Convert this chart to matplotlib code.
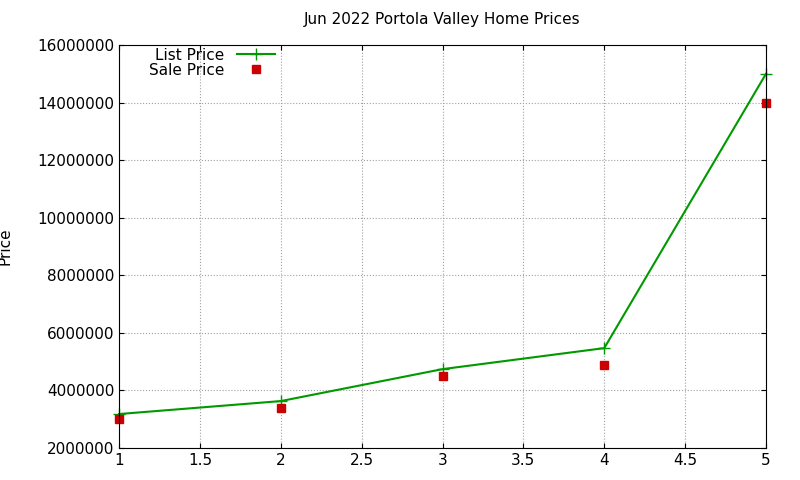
import matplotlib
matplotlib.use("Agg")
import matplotlib.pyplot as plt

x = [1, 2, 3, 4, 5]
list_price = [3180000, 3630000, 4740000, 5470000, 15000000]
sale_price = [3000000, 3390000, 4500000, 4880000, 14000000]
yticks = [2000000, 4000000, 6000000, 8000000, 10000000, 12000000, 14000000, 16000000]
xticks = [1, 1.5, 2, 2.5, 3, 3.5, 4, 4.5, 5]

fig = plt.figure(figsize=(8, 4.8), dpi=100)
ax = fig.add_axes([119/800, 1-448/480, (766-119)/800, (448-45)/480])
ax.plot(x, list_price, color="#009900", marker="+", markersize=8, linewidth=1.5, label="List Price", clip_on=False)
ax.plot(x, sale_price, color="#cc0000", marker="s", markersize=6, linestyle="none", label="Sale Price", clip_on=False)
ax.set_xlim(1, 5)
ax.set_ylim(2000000, 16000000)
ax.set_xticks(xticks)
ax.set_xticklabels([f"{t:g}" for t in xticks])
ax.set_yticks(yticks)
ax.set_yticklabels([str(t) for t in yticks])
ax.tick_params(direction="in", labelsize=11, top=True, right=True)
ax.grid(True, color="#a0a0a0", linestyle=":", linewidth=0.8)
ax.set_ylabel("Price", fontsize=11, labelpad=18)
ax.set_title("Jun 2022 Portola Valley Home Prices", fontsize=11, pad=15)
leg = ax.legend(loc="upper left", bbox_to_anchor=(0.03, 1.02), frameon=False, fontsize=11,
                markerfirst=False, handlelength=2.5, borderpad=0.2, labelspacing=0.0)
fig.savefig("out.png", dpi=100)
